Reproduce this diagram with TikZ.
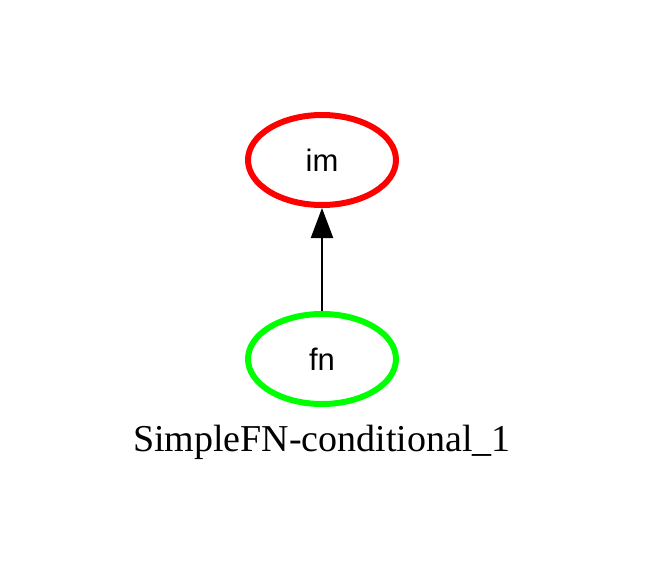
\documentclass[tikz,border=0pt]{standalone}
\usepackage{fontspec}
\setmainfont{Liberation Serif}
\setsansfont{Liberation Sans}
\usetikzlibrary{shapes.geometric,arrows.meta}

\tikzset{
	state/.style={ellipse,line width=6pt,minimum width=148pt,minimum height=90pt,inner sep=0pt,font=\sffamily\fontsize{31}{34}\selectfont},
	link/.style={line width=2.2pt,-{Triangle[length=30pt,width=22pt]}}
}

\begin{document}
\begin{tikzpicture}[x=1pt,y=-1pt]
			\useasboundingbox (0,0) rectangle (648,587);
			\node[state,draw=red] (im) at (322,160) {im};
			\node[state,draw=green] (fn) at (322,359) {fn};
			\draw[link] (fn) -- (im);
			\node[font=\fontsize{38}{40}\selectfont] (caption) at (322,442) {SimpleFN-conditional\_1};
		\end{tikzpicture}
\end{document}
